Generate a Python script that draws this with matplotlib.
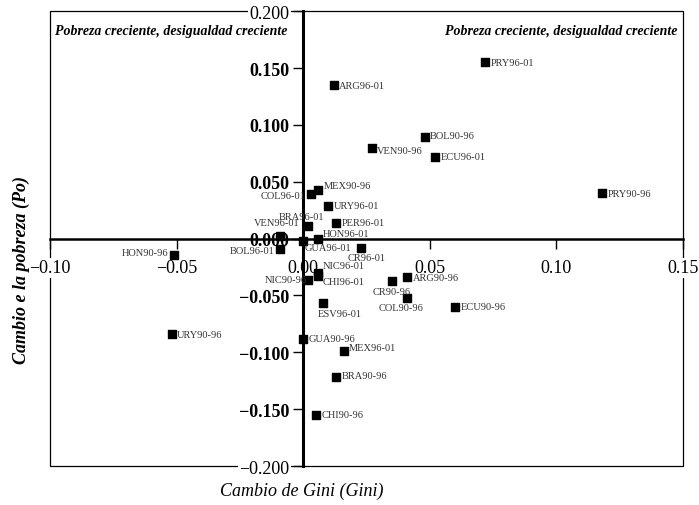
import matplotlib.pyplot as plt
from matplotlib.patches import Rectangle

plt.rcParams['font.family'] = ['Liberation Serif', 'DejaVu Serif']

# País y periodo
paises = ['PRY96-01', 'ARG96-01', 'BOL90-96', 'VEN90-96', 'ECU96-01',
          'MEX90-96', 'COL96-01', 'URY96-01', 'PRY90-96', 'BRA96-01',
          'PER96-01', 'VEN96-01', 'HON96-01', 'GUA96-01', 'BOL96-01',
          'CR96-01', 'NIC96-01', 'CHI96-01', 'NIC90-96', 'ESV96-01',
          'CR90-96', 'ARG90-96', 'COL90-96', 'ECU90-96', 'GUA90-96',
          'MEX96-01', 'BRA90-96', 'CHI90-96', 'HON90-96', 'URY90-96']

# Cambio en el coeficiente de Gini
gini = [0.072, 0.012, 0.048, 0.027, 0.052,
        0.006, 0.003, 0.010, 0.118, 0.002,
        0.013, -0.009, 0.006, 0.000, -0.009,
        0.023, 0.006, 0.006, 0.002, 0.008,
        0.035, 0.041, 0.041, 0.060, 0.000,
        0.016, 0.013, 0.005, -0.051, -0.052]

# Cambio en la pobreza (P0)
pobreza = [0.155, 0.135, 0.089, 0.080, 0.072,
           0.043, 0.039, 0.029, 0.040, 0.011,
           0.014, 0.002, -0.0005, -0.002, -0.009,
           -0.008, -0.030, -0.033, -0.036, -0.057,
           -0.037, -0.034, -0.052, -0.060, -0.088,
           -0.099, -0.122, -0.155, -0.0145, -0.084]

xticks = [-0.10, -0.05, 0.00, 0.05, 0.10, 0.15]
xticklabels = ['\u22120.10', '\u22120.05', '0.00', '0.05', '0.10', '0.15']
yticks = [0.200, 0.150, 0.100, 0.050, 0.000, -0.050, -0.100, -0.150, -0.200]
yticklabels = ['0.200', '0.150', '0.100', '0.050', '0.000',
               '\u22120.050', '\u22120.100', '\u22120.150', '\u22120.200']

# desplazamiento de cada etiqueta (puntos) y alineación
default_pos = (4, 0, 'left')
label_pos = {
    'BOL90-96': (4, 1, 'left'),
    'VEN90-96': (4, -2, 'left'),
    'MEX90-96': (4, 3, 'left'),
    'COL96-01': (-4, -1, 'right'),
    'BRA96-01': (-5, 7, 'center'),
    'VEN96-01': (-3, 10, 'center'),
    'HON96-01': (3, 4, 'left'),
    'GUA96-01': (1, -5, 'left'),
    'BOL96-01': (-4, -1, 'right'),
    'CR96-01': (4, -7, 'center'),
    'NIC96-01': (3, 5, 'left'),
    'CHI96-01': (3, -4, 'left'),
    'NIC90-96': (-1, 0, 'right'),
    'ESV96-01': (12, -7, 'center'),
    'CR90-96': (0, -8, 'center'),
    'COL90-96': (-4, -7, 'center'),
    'MEX96-01': (4, 3, 'left'),
    'BRA90-96': (4, 1, 'left'),
    'HON90-96': (-4, 2, 'right'),
}

fig = plt.figure(figsize=(6.99, 5.06), dpi=100)
ax = fig.add_axes([0.0715, 0.077, 0.9055, 0.899])

ax.scatter(gini, pobreza, marker='s', s=26, color='black', zorder=4)

for nombre, x, y in zip(paises, gini, pobreza):
    dx, dy, ha = label_pos.get(nombre, default_pos)
    ax.annotate(nombre, (x, y), xytext=(dx, dy), textcoords='offset points',
                ha=ha, va='center', fontsize=7.5, color='#333333', zorder=5)

ax.set_xlim(-0.10, 0.15)
ax.set_ylim(-0.200, 0.200)

# ejes cruzando en el origen
ax.spines['left'].set_position(('data', 0))
ax.spines['bottom'].set_position(('data', 0))
ax.spines['left'].set_linewidth(2.2)
ax.spines['bottom'].set_linewidth(1.8)
ax.spines['top'].set_visible(False)
ax.spines['right'].set_visible(False)
ax.add_patch(Rectangle((0, 0), 1, 1, transform=ax.transAxes, fill=False,
                       lw=0.9, edgecolor='black', zorder=0.5, clip_on=False))

ax.set_xticks(xticks, xticklabels)
ax.set_yticks(yticks, yticklabels)
ax.tick_params(axis='x', direction='out', length=7, width=1, pad=8, labelsize=13)
ax.tick_params(axis='y', direction='out', length=7, width=1, pad=3, labelsize=13)
for lbl in ax.get_yticklabels():
    lbl.set_fontweight('bold')
    lbl.set_bbox(dict(facecolor='white', edgecolor='none', pad=1))
for lbl in (ax.get_yticklabels()[0], ax.get_yticklabels()[-1]):
    lbl.set_fontweight('normal')
for lbl in ax.get_xticklabels():
    lbl.set_bbox(dict(facecolor='white', edgecolor='none', pad=1))

ax.text(0.008, 0.972, 'Pobreza creciente, desigualdad creciente',
        transform=ax.transAxes, ha='left', va='top', fontsize=10,
        style='italic', fontweight='bold')
ax.text(0.992, 0.972, 'Pobreza creciente, desigualdad creciente',
        transform=ax.transAxes, ha='right', va='top', fontsize=10,
        style='italic', fontweight='bold')

fig.text(0.432, 0.028, 'Cambio de Gini (Gini)', ha='center', va='center',
         fontsize=13, style='italic')
fig.text(0.03, 0.466, 'Cambio e la pobreza (Po)', ha='center', va='center',
         rotation=90, fontsize=13, style='italic', fontweight='bold')

fig.savefig('out.png', dpi=100)
